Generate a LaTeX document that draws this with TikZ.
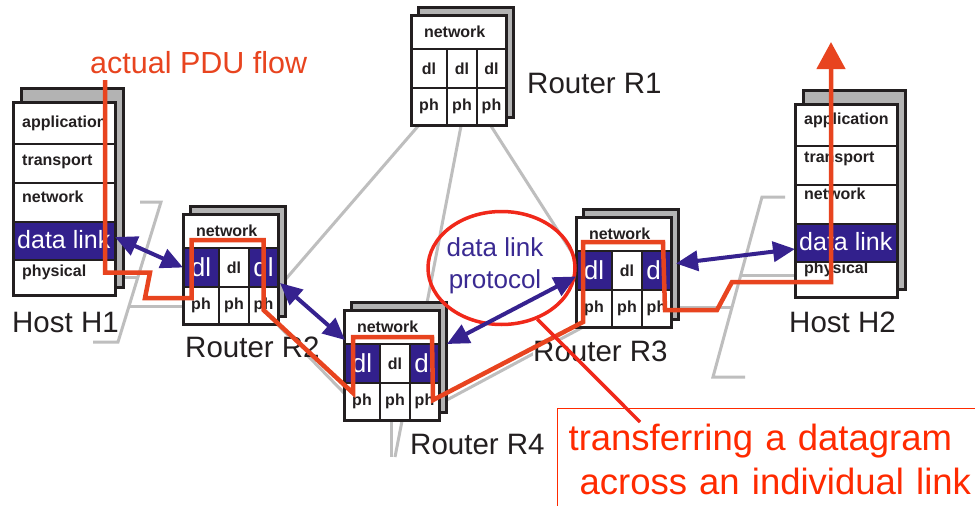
\documentclass[tikz,border=0pt]{standalone}
\usepackage{fontspec}
\setmainfont{Liberation Sans}
\usetikzlibrary{arrows.meta,shapes.geometric}
\definecolor{ink}{HTML}{231F20}
\definecolor{dlpurple}{HTML}{32208C}
\definecolor{arrpurple}{HTML}{36228F}
\definecolor{txtpurple}{HTML}{3A2A92}
\definecolor{flowred}{HTML}{E8441F}
\definecolor{ellred}{HTML}{F0281A}
\definecolor{notered}{HTML}{FF2A00}
\definecolor{linkgray}{HTML}{BEBEBE}
\definecolor{shadowgray}{HTML}{B3B3B3}

\tikzset{
  cell/.style={draw=ink, line width=1.8pt, fill=white, inner sep=0pt, outer sep=0pt,
    anchor=north west, text=ink, font=\fontsize{16}{19}\selectfont\bfseries},
  pcell/.style={cell, fill=dlpurple, text=white, font=\fontsize{26}{30}\selectfont},
  netcell/.style={cell, inner xsep=13pt, text width=69pt, align=left},
  hrow/.style={cell, minimum width=102pt},
  htext/.style={anchor=base west, inner sep=0pt, text=ink, font=\fontsize{16}{19}\selectfont\bfseries},
  stackframe/.style={draw=ink, line width=3pt},
  backbox/.style={draw=ink, line width=3pt, fill=shadowgray},
  greylink/.style={draw=linkgray, line width=3pt},
  dlarrow/.style={draw=arrpurple, line width=4pt,
    arrows={Triangle[length=22pt,width=20pt]-Triangle[length=22pt,width=20pt]}},
  flowline/.style={draw=flowred, line width=4.5pt, line join=miter,
    arrows={-Triangle[length=27pt,width=28pt]}},
  lbl/.style={anchor=base west, inner sep=0pt, text=ink, font=\fontsize{29.5}{34}\selectfont},
}

% router stack: name, x, y (front top-left), style of outer dl cells
\newcommand{\rtrstack}[4]{%
  \draw[backbox] ({#2+7},{#3-8}) rectangle ({#2+102},{#3+102});
  \node[netcell, minimum width=95pt, minimum height=34pt] (#1net) at (#2,#3) {network};
  \node[#4, minimum width=36pt, minimum height=39pt] (#1dla) at (#2,{#3+34}) {dl};
  \node[cell, minimum width=30pt, minimum height=39pt] (#1dlb) at ({#2+36},{#3+34}) {dl};
  \node[#4, minimum width=29pt, minimum height=39pt] (#1dlc) at ({#2+66},{#3+34}) {dl};
  \node[cell, minimum width=36pt, minimum height=37pt] (#1pha) at (#2,{#3+73}) {ph};
  \node[cell, minimum width=30pt, minimum height=37pt] (#1phb) at ({#2+36},{#3+73}) {ph};
  \node[cell, minimum width=29pt, minimum height=37pt] (#1phc) at ({#2+66},{#3+73}) {ph};
  \draw[stackframe] (#2,#3) rectangle ({#2+95},{#3+110});
}

% host stack: name, x, y (front top-left), text shift
\newcommand{\hoststack}[4]{%
  \draw[backbox] ({#2+8},{#3-14}) rectangle ({#2+110},{#3+185});
  \node[hrow, minimum height=42pt] (#1app) at (#2,#3) {};
  \node[hrow, minimum height=39pt] (#1tr) at (#2,{#3+42}) {};
  \node[hrow, minimum height=39pt] (#1nw) at (#2,{#3+81}) {};
  \node[hrow, fill=dlpurple, minimum height=38pt] (#1dl) at (#2,{#3+120}) {};
  \node[hrow, minimum height=35pt] (#1ph) at (#2,{#3+158}) {};
  \draw[stackframe] (#2,#3) rectangle ({#2+102},{#3+193});
  \node[htext] at ({#2+9},{#3+23+#4}) {application};
  \node[htext] at ({#2+9},{#3+61+#4}) {transport};
  \node[htext] at ({#2+9},{#3+98+#4}) {network};
  \node[htext, text=white, font=\fontsize{25}{30}\selectfont] at ({#2+4},{#3+146}) {data link};
  \node[htext] at ({#2+9},{#3+172+#4}) {physical};
}

\begin{document}
\begin{tikzpicture}[x=1pt, y=-1pt]
\useasboundingbox (0,0) rectangle (975,506);
\fill[white] (0,0) rectangle (975,506);

% ---- grey physical links and brackets ----
\draw[greylink] (140,202) -- (161,202) -- (118,342) -- (93,342);
\draw[greylink] (785,197) -- (762,197) -- (713,377) -- (745,377);
\draw[greylink] (115,277) -- (138,277);
\draw[greylink] (129,306) -- (183,306);
\draw[greylink] (678,307) -- (731,307);
\draw[greylink] (741,275) -- (795,275);
\draw[greylink] (419,125) -- (285,280);
\draw[greylink] (461,126) -- (427,303);
\draw[greylink] (491,126) -- (578,262);
\draw[greylink] (445,401) -- (585,326);
\draw[greylink] (275,322) -- (346,395);
\draw[greylink] (391,421) -- (391,457);
\draw[greylink] (402,421) -- (395,457);

% ---- stacks ----
\hoststack{hA}{13}{102}{2.5}
\hoststack{hB}{795}{104}{-2.5}
\rtrstack{R1}{411}{15}{cell}
\rtrstack{R2}{183}{214}{pcell}
\rtrstack{R4}{344}{310}{pcell}
\rtrstack{R3}{576}{217}{pcell}

% ---- labels ----
\node[lbl] (lh1) at (12,332) {Host H1};
\node[lbl] (lh2) at (789,332) {Host H2};
\node[lbl] (lr1) at (527,93) {Router R1};
\node[lbl, fill=white] (lr2) at (185,357) {Router R2};
\node[lbl, fill=white] (lr3) at (533,361) {Router R3};
\node[lbl] (lr4) at (410,454) {Router R4};
\node[lbl, text=flowred, font=\fontsize{30.5}{35}\selectfont] (lpdu) at (90,73) {actual PDU flow};

% ---- data link protocol ellipse ----
\node[ellipse, draw=ellred, line width=3.5pt, minimum width=147pt, minimum height=113pt, inner sep=0pt] (ell) at (501.5,268) {};
\node[align=center, inner sep=0pt, text=txtpurple, font=\fontsize{26}{32}\selectfont] (dlp) at (495,266) {data link\\protocol};

% ---- data link peer arrows ----
\draw[dlarrow] ([yshift=4pt]hAdl.east) -- (R2dla.west);
\draw[dlarrow] ([xshift=2pt,yshift=4pt]R2dlc.south east) -- ([xshift=1pt,yshift=4pt]R4dla.north west);
\draw[dlarrow] ([xshift=8pt]R4dlc.north east) -- ([yshift=-6pt]R3dla.west);
\draw[dlarrow] ([xshift=5pt,yshift=7pt]R3dlc.east) -- ([yshift=-6pt]hBdl.west);

% ---- actual PDU flow ----
\coordinate (flowstart) at (105,80);
\coordinate (flowend) at (831,42);
\draw[flowline] (flowstart) -- (105,272.5) -- (150,272.5) -- (145,298) -- (191.5,298)
  -- (191.5,240) -- (263.5,240) -- (263.5,310) -- (353,393) -- (353,337) -- (432,337)
  -- (433,400) -- (583,322) -- (583,242) -- (663,242) -- (665,310) -- (717,310)
  -- (732,282) -- (831,282) -- (flowend);

% ---- note box ----
\node[draw=notered, line width=1.2pt, anchor=north west, inner xsep=11pt, inner ysep=0pt,
  text width=440pt, minimum height=101pt, align=left, text=notered,
  font=\fontsize{36.5}{44}\selectfont] (note) at (557,408)
  {transferring a datagram\\\hspace*{0.3em}across an individual link};
\coordinate (notetip) at (640,422);
\draw[ellred, line width=3.5pt] (ell.-55) -- (notetip);
\end{tikzpicture}
\end{document}
